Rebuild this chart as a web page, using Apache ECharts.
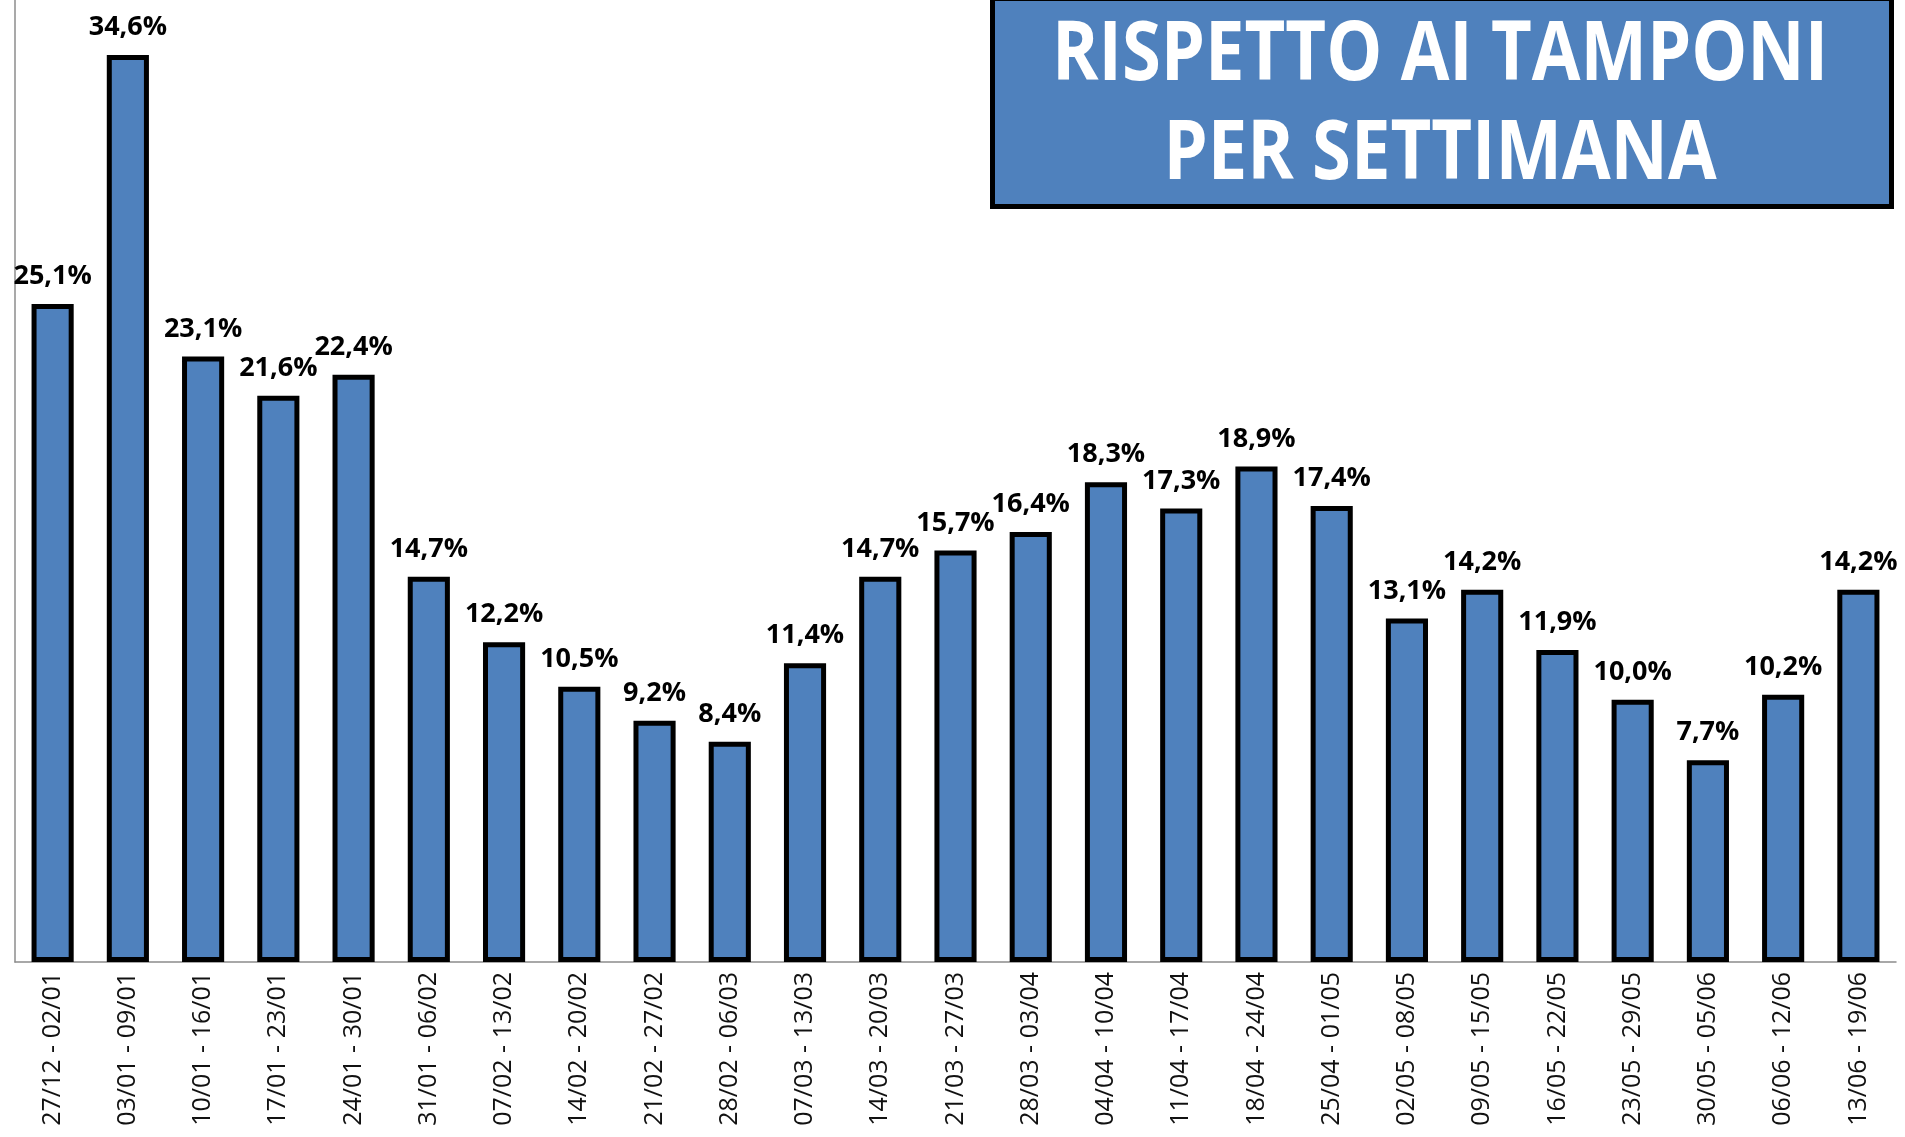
<!DOCTYPE html>
<html>
<head>
<meta charset="utf-8">
<script src="https://cdn.jsdelivr.net/npm/echarts@6/dist/echarts.min.js"></script>
<style>
  html, body { margin: 0; padding: 0; background: #fff; }
  #main { width: 1905px; height: 1137px; }
</style>
</head>
<body>
<div id="main"></div>
<script>
const weeks = [
  "27/12 - 02/01", "03/01 - 09/01", "10/01 - 16/01", "17/01 - 23/01", "24/01 - 30/01",
  "31/01 - 06/02", "07/02 - 13/02", "14/02 - 20/02", "21/02 - 27/02", "28/02 - 06/03",
  "07/03 - 13/03", "14/03 - 20/03", "21/03 - 27/03", "28/03 - 03/04", "04/04 - 10/04",
  "11/04 - 17/04", "18/04 - 24/04", "25/04 - 01/05", "02/05 - 08/05", "09/05 - 15/05",
  "16/05 - 22/05", "23/05 - 29/05", "30/05 - 05/06", "06/06 - 12/06", "13/06 - 19/06",
];
const positivity = [
  25.1, 34.6, 23.1, 21.6, 22.4, 14.7, 12.2, 10.5, 9.2, 8.4,
  11.4, 14.7, 15.7, 16.4, 18.3, 17.3, 18.9, 17.4, 13.1, 14.2,
  11.9, 10.0, 7.7, 10.2, 14.2,
];
const titleLines = ["RISPETTO AI TAMPONI", "PER SETTIMANA"];

const myChart = echarts.init(document.getElementById("main"));

myChart.setOption({
  animation: false,
  grid: { left: 15, right: 9, top: 0, bottom: 175 },
  xAxis: {
    type: "category",
    data: weeks,
    axisLine: { lineStyle: { color: "#8c8c8c", width: 1.5 } },
    axisTick: { length: 9, lineStyle: { color: "#8c8c8c", width: 1.5 } },
    axisLabel: {
      rotate: 90,
      interval: 0,
      margin: 10,
      color: "#111",
      fontFamily: "Open Sans",
      fontSize: 25,
    },
  },
  yAxis: {
    type: "value",
    min: 0,
    max: 36.7,
    splitLine: { show: false },
    axisLabel: { show: false },
    axisTick: { show: false },
    axisLine: { show: true, lineStyle: { color: "#8c8c8c", width: 1.5 } },
  },
  series: [
    {
      type: "bar",
      data: positivity,
      barWidth: "56%",
      itemStyle: { color: "#4F81BD", borderColor: "#000", borderWidth: 5 },
      label: {
        show: true,
        position: "top",
        distance: 14,
        color: "#000",
        fontFamily: "Open Sans",
        fontWeight: "bold",
        fontSize: 27,
        formatter: (p) => p.value.toFixed(1).replace(".", ",") + "%",
      },
    },
  ],
  graphic: [
    {
      type: "rect",
      left: 990,
      top: -4,
      shape: { width: 899, height: 208 },
      style: { fill: "#4F81BD", stroke: "#000", lineWidth: 5 },
      z: 10,
    },
    {
      type: "text",
      x: 1440,
      y: 57,
      scaleX: 0.86,
      style: {
        text: titleLines[0],
        fill: "#fff",
        font: "bold 82px 'Open Sans'",
        textAlign: "center",
        textVerticalAlign: "middle",
      },
      z: 11,
    },
    {
      type: "text",
      x: 1440,
      y: 156,
      scaleX: 0.86,
      style: {
        text: titleLines[1],
        fill: "#fff",
        font: "bold 82px 'Open Sans'",
        textAlign: "center",
        textVerticalAlign: "middle",
      },
      z: 11,
    },
  ],
});
</script>
</body>
</html>
